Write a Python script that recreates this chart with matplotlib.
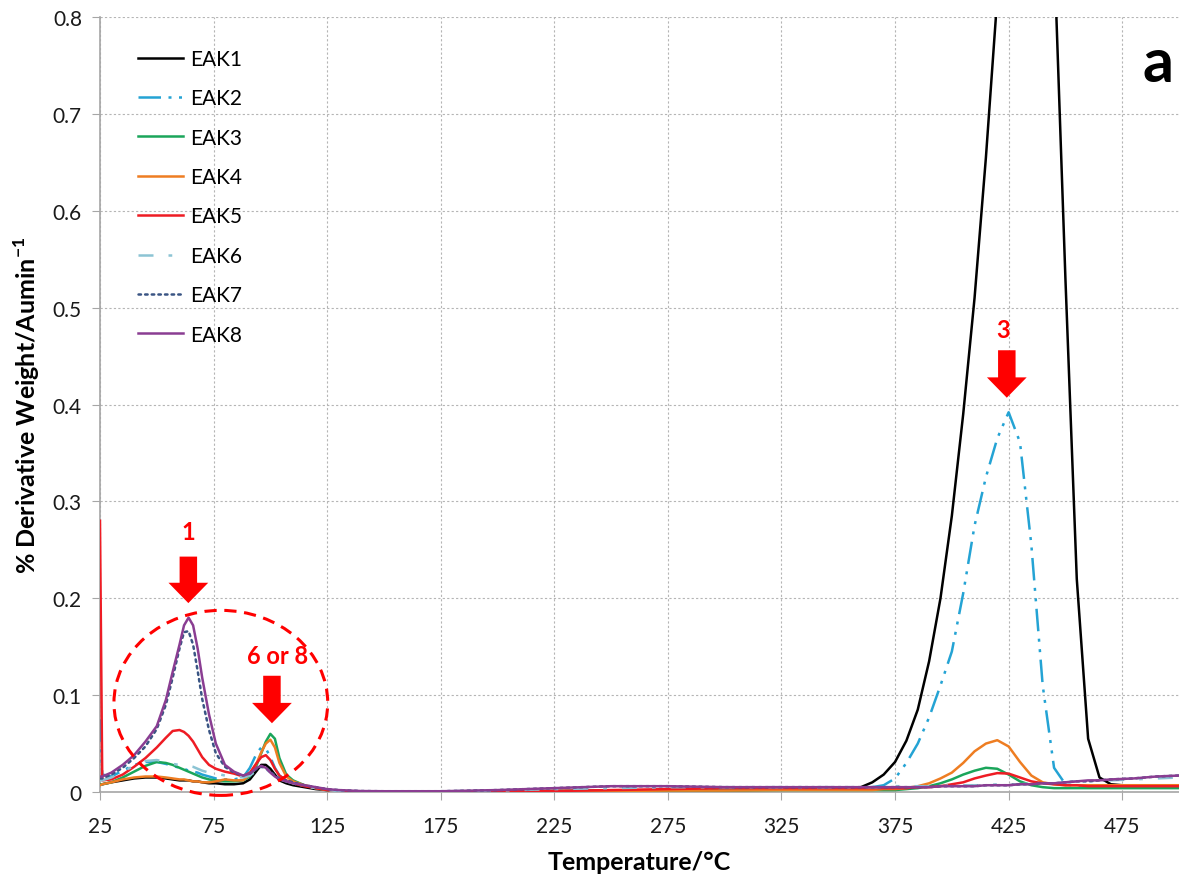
import matplotlib
matplotlib.use('Agg')
import matplotlib.pyplot as plt
from matplotlib.patches import Ellipse, Polygon
from matplotlib.ticker import FuncFormatter

plt.rcParams['font.family'] = ['Lato', 'DejaVu Sans']
plt.rcParams['mathtext.fontset'] = 'custom'
plt.rcParams['mathtext.rm'] = 'Lato'
plt.rcParams['mathtext.bf'] = 'Lato:bold'

# temperature grid shared by all samples (°C)
temperature = [
    25, 26, 30, 35, 40, 45, 50, 54, 57, 60,
    62, 64, 66, 68, 70, 73, 76, 80, 84, 88,
    91, 94, 96, 98, 100, 102, 104, 107, 110, 115,
    120, 125, 130, 140, 150, 175, 200, 225, 250, 275,
    300, 325, 350, 360, 365, 370, 375, 380, 385, 390,
    395, 400, 405, 410, 415, 420, 425, 430, 435, 440,
    445, 450, 455, 460, 465, 470, 480, 490, 500,
]

eak1 = [
    0.008, 0.008, 0.010, 0.012, 0.014, 0.015, 0.015, 0.014, 0.013, 0.012,
    0.012, 0.012, 0.011, 0.011, 0.010, 0.009, 0.009, 0.008, 0.008, 0.009,
    0.013, 0.022, 0.028, 0.028, 0.024, 0.018, 0.012, 0.009, 0.007, 0.005,
    0.003, 0.002, 0.001, 0.0005, 0.0003, 0.0003, 0.0005, 0.001, 0.0015, 0.002,
    0.002, 0.0025, 0.003, 0.005, 0.010, 0.018, 0.031, 0.053, 0.085, 0.135,
    0.200, 0.285, 0.390, 0.510, 0.655, 0.820, 0.960, 1.060, 1.100, 1.060,
    0.870, 0.530, 0.220, 0.055, 0.015, 0.008, 0.006, 0.006, 0.006,
]
eak2 = [
    0.075, 0.018, 0.016, 0.022, 0.028, 0.031, 0.031, 0.029, 0.027, 0.025,
    0.024, 0.022, 0.021, 0.020, 0.018, 0.016, 0.014, 0.013, 0.013, 0.015,
    0.025, 0.040, 0.046, 0.045, 0.036, 0.025, 0.017, 0.012, 0.009, 0.006,
    0.004, 0.002, 0.001, 0.0005, 0.0003, 0.0003, 0.0005, 0.001, 0.0015, 0.002,
    0.002, 0.0025, 0.003, 0.004, 0.005, 0.007, 0.014, 0.030, 0.050, 0.077,
    0.110, 0.145, 0.205, 0.275, 0.325, 0.365, 0.392, 0.361, 0.255, 0.110,
    0.025, 0.008, 0.006, 0.006, 0.006, 0.006, 0.006, 0.006, 0.006,
]
eak3 = [
    0.008, 0.008, 0.010, 0.015, 0.021, 0.027, 0.031, 0.030, 0.028, 0.025,
    0.023, 0.021, 0.019, 0.017, 0.015, 0.013, 0.012, 0.011, 0.011, 0.012,
    0.016, 0.028, 0.040, 0.052, 0.060, 0.055, 0.035, 0.018, 0.012, 0.007,
    0.004, 0.002, 0.001, 0.0005, 0.0003, 0.0003, 0.0005, 0.001, 0.001, 0.0015,
    0.0015, 0.002, 0.002, 0.002, 0.002, 0.002, 0.002, 0.003, 0.004, 0.006,
    0.009, 0.013, 0.018, 0.022, 0.025, 0.024, 0.018, 0.011, 0.007, 0.005,
    0.004, 0.004, 0.004, 0.004, 0.004, 0.004, 0.004, 0.004, 0.004,
]
eak4 = [
    0.007, 0.008, 0.010, 0.013, 0.015, 0.016, 0.016, 0.015, 0.014, 0.013,
    0.013, 0.012, 0.011, 0.011, 0.010, 0.010, 0.011, 0.013, 0.012, 0.012,
    0.018, 0.030, 0.041, 0.050, 0.054, 0.046, 0.030, 0.016, 0.011, 0.007,
    0.004, 0.002, 0.001, 0.0005, 0.0003, 0.0003, 0.0005, 0.001, 0.001, 0.0015,
    0.0015, 0.002, 0.002, 0.002, 0.002, 0.003, 0.003, 0.004, 0.006, 0.009,
    0.014, 0.020, 0.030, 0.042, 0.050, 0.0535, 0.047, 0.031, 0.017, 0.010,
    0.008, 0.007, 0.007, 0.007, 0.007, 0.007, 0.007, 0.007, 0.007,
]
eak5 = [
    0.280, 0.012, 0.013, 0.018, 0.026, 0.035, 0.046, 0.056, 0.063, 0.064,
    0.062, 0.058, 0.052, 0.044, 0.036, 0.028, 0.024, 0.021, 0.019, 0.016,
    0.020, 0.030, 0.036, 0.038, 0.033, 0.024, 0.017, 0.012, 0.009, 0.006,
    0.004, 0.002, 0.001, 0.0005, 0.0003, 0.0003, 0.0006, 0.001, 0.002, 0.003,
    0.004, 0.004, 0.004, 0.004, 0.004, 0.004, 0.004, 0.004, 0.005, 0.005,
    0.006, 0.008, 0.010, 0.014, 0.017, 0.0195, 0.019, 0.015, 0.011, 0.009,
    0.008, 0.007, 0.007, 0.006, 0.006, 0.006, 0.006, 0.006, 0.006,
]
eak6 = [
    0.012, 0.012, 0.015, 0.021, 0.027, 0.032, 0.033, 0.031, 0.029, 0.028,
    0.028, 0.027, 0.026, 0.024, 0.022, 0.020, 0.019, 0.017, 0.016, 0.015,
    0.017, 0.022, 0.025, 0.024, 0.020, 0.016, 0.013, 0.011, 0.009, 0.006,
    0.004, 0.002, 0.001, 0.0005, 0.0005, 0.0008, 0.0015, 0.003, 0.004, 0.005,
    0.005, 0.005, 0.005, 0.005, 0.005, 0.005, 0.006, 0.006, 0.006, 0.006,
    0.006, 0.007, 0.007, 0.007, 0.007, 0.008, 0.008, 0.008, 0.009, 0.009,
    0.010, 0.010, 0.011, 0.011, 0.012, 0.012, 0.013, 0.014, 0.015,
]
eak7 = [
    0.014, 0.014, 0.018, 0.025, 0.035, 0.047, 0.065, 0.090, 0.118, 0.148,
    0.165, 0.166, 0.152, 0.125, 0.096, 0.064, 0.040, 0.026, 0.020, 0.017,
    0.019, 0.024, 0.026, 0.025, 0.021, 0.017, 0.014, 0.012, 0.010, 0.007,
    0.005, 0.003, 0.002, 0.001, 0.0008, 0.0008, 0.002, 0.004, 0.006, 0.006,
    0.005, 0.005, 0.005, 0.005, 0.005, 0.005, 0.005, 0.005, 0.005, 0.005,
    0.006, 0.006, 0.006, 0.006, 0.007, 0.007, 0.007, 0.008, 0.008, 0.009,
    0.009, 0.010, 0.011, 0.011, 0.012, 0.013, 0.014, 0.016, 0.017,
]
eak8 = [
    0.016, 0.016, 0.020, 0.028, 0.038, 0.052, 0.068, 0.095, 0.124, 0.152,
    0.172, 0.180, 0.172, 0.148, 0.118, 0.080, 0.050, 0.028, 0.021, 0.017,
    0.019, 0.025, 0.027, 0.025, 0.020, 0.016, 0.013, 0.011, 0.009, 0.007,
    0.005, 0.003, 0.002, 0.001, 0.0008, 0.0008, 0.002, 0.004, 0.006, 0.006,
    0.005, 0.005, 0.005, 0.005, 0.005, 0.005, 0.005, 0.005, 0.005, 0.005,
    0.006, 0.006, 0.006, 0.006, 0.007, 0.007, 0.007, 0.008, 0.008, 0.009,
    0.009, 0.010, 0.011, 0.012, 0.012, 0.013, 0.014, 0.016, 0.017,
]

sample_names = ['EAK1', 'EAK2', 'EAK3', 'EAK4', 'EAK5', 'EAK6', 'EAK7', 'EAK8']
sample_values = [eak1, eak2, eak3, eak4, eak5, eak6, eak7, eak8]

x_ticks = [25, 75, 125, 175, 225, 275, 325, 375, 425, 475]
y_ticks = [0, 0.1, 0.2, 0.3, 0.4, 0.5, 0.6, 0.7, 0.8]

LINE_STYLES = {
    'EAK1': dict(color='black', linestyle='-'),
    'EAK2': dict(color='#24a3d4', dashes=(9, 3, 1.2, 3, 1.2, 3)),
    'EAK3': dict(color='#1aa55a', linestyle='-'),
    'EAK4': dict(color='#ee7d22', linestyle='-'),
    'EAK5': dict(color='#ee1c24', linestyle='-'),
    'EAK6': dict(color='#8cc4d4', dashes=(6, 6, 1.5, 6)),
    'EAK7': dict(color='#3a5584', linestyle=':', dash_capstyle='round'),
    'EAK8': dict(color='#8a3d92', linestyle='-'),
}

MARK_RED = '#ff0000'


def down_arrow(ax, x, top, tip, shaft_width=7.7, head_width=17.5, head_length=0.021):
    neck = tip + head_length
    vertices = [
        (x - shaft_width / 2, top),
        (x + shaft_width / 2, top),
        (x + shaft_width / 2, neck),
        (x + head_width / 2, neck),
        (x, tip),
        (x - head_width / 2, neck),
        (x - shaft_width / 2, neck),
    ]
    ax.add_patch(Polygon(vertices, closed=True, facecolor=MARK_RED, edgecolor='none', zorder=5))


fig = plt.figure(figsize=(11.79, 8.78), dpi=100)
ax = fig.add_axes([0.0848, 0.0968, 0.9152, 0.8827])

for name, values in zip(sample_names, sample_values):
    ax.plot(temperature, values, label=name, linewidth=1.8, zorder=3, **LINE_STYLES[name])

ax.set_xlim(25, 500)
ax.set_ylim(0, 0.8)
ax.set_xticks(x_ticks)
ax.set_yticks(y_ticks)
ax.yaxis.set_major_formatter(FuncFormatter(lambda v, _: f'{v:g}'))
ax.tick_params(labelsize=15, direction='out', length=6, color='#a6a6a6', labelcolor='#1a1a1a')
ax.tick_params(axis='x', pad=11)
ax.tick_params(axis='y', pad=7)
ax.grid(True, color='#b5b5b5', linestyle=(0, (2, 2)), linewidth=0.8)
ax.set_axisbelow(True)
for side in ['top', 'right']:
    ax.spines[side].set_visible(False)
for side in ['left', 'bottom']:
    ax.spines[side].set_color('#a6a6a6')
    ax.spines[side].set_linewidth(1.2)

ax.set_xlabel('Temperature/°C', fontsize=18, fontweight='bold', labelpad=10)
ax.set_ylabel(r'% Derivative Weight/Aumin$^{\mathbf{-1}}$', fontsize=18, fontweight='bold', labelpad=8)

legend = ax.legend(
    loc='upper left',
    bbox_to_anchor=(0.018, 0.983),
    frameon=False,
    fontsize=15,
    handlelength=2.15,
    labelspacing=0.93,
    handletextpad=0.35,
)

# peak markers
ax.add_patch(Ellipse((78.2, 0.092), 94.1, 0.191, fill=False, edgecolor=MARK_RED,
                     linestyle=(0, (4, 2.5)), linewidth=2.2, clip_on=False, zorder=5))
down_arrow(ax, 63.9, 0.243, 0.195)
down_arrow(ax, 100.7, 0.120, 0.071)
down_arrow(ax, 424.2, 0.456, 0.407)
ax.text(63.9, 0.269, '1', color=MARK_RED, fontsize=17, fontweight='bold', ha='center', va='center')
ax.text(103, 0.141, '6 or 8', color=MARK_RED, fontsize=17, fontweight='bold', ha='center', va='center')
ax.text(422.7, 0.477, '3', color=MARK_RED, fontsize=17, fontweight='bold', ha='center', va='center')

ax.text(0.995, 0.94, 'a', transform=ax.transAxes, fontsize=44, fontweight='bold',
        ha='right', va='center')

fig.savefig('out.png', dpi=100)
